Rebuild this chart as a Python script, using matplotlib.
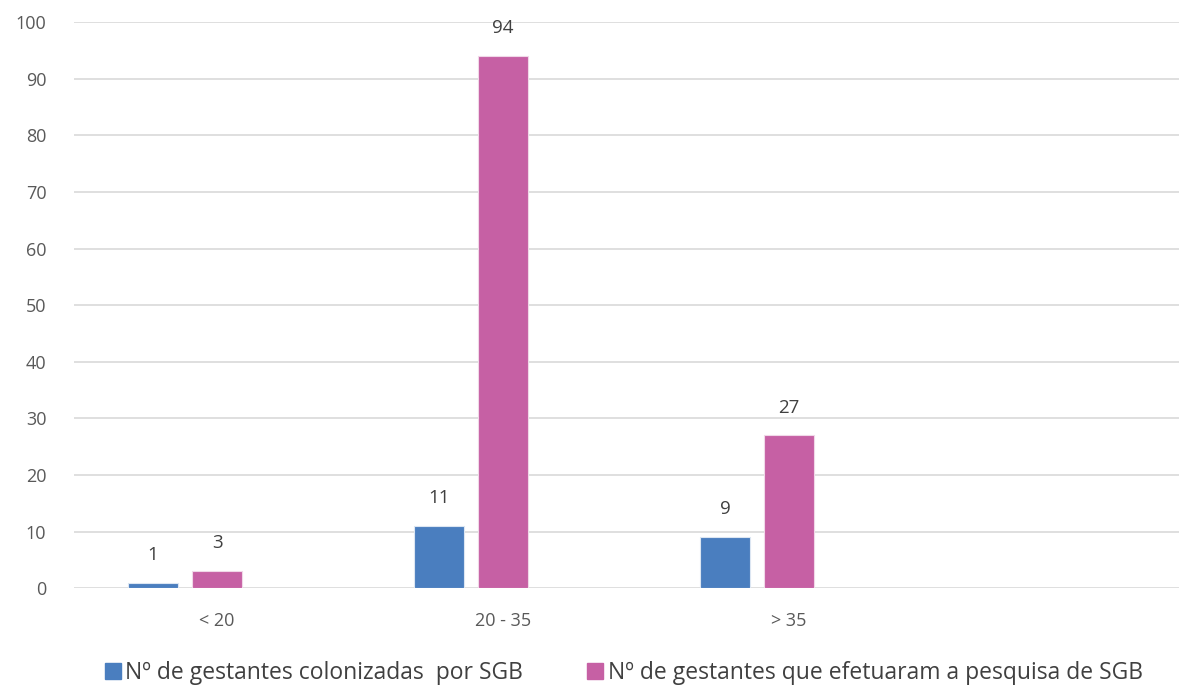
import numpy as np
import matplotlib.pyplot as plt
from matplotlib.patches import Patch

plt.rcParams['font.family'] = ['Open Sans', 'DejaVu Sans']

categorias = ['< 20', '20 - 35', '> 35', '']
colonizadas = [1, 11, 9]
pesquisa = [3, 94, 27]
series_nomes = ['Nº de gestantes colonizadas  por SGB',
                'Nº de gestantes que efetuaram a pesquisa de SGB']

azul = '#4a7ebf'
rosa = '#c660a4'
cinza_txt = '#595959'

fig = plt.figure(figsize=(11.79, 6.92), dpi=100)
ax = fig.add_axes([0.0628, 0.150, 0.9372, 0.818])

x = np.arange(len(colonizadas))
w = 0.175
b1 = ax.bar(x - 0.224, colonizadas, w, color=azul, edgecolor='#dce6f2', linewidth=0.8, zorder=3)
b2 = ax.bar(x, pesquisa, w, color=rosa, edgecolor='#f0d8e8', linewidth=0.8, zorder=3)

for barras in (b1, b2):
    for r in barras:
        ax.annotate(str(int(r.get_height())), (r.get_x() + r.get_width() / 2, r.get_height()),
                    xytext=(0, 20), textcoords='offset points', ha='center', va='center',
                    fontsize=13.5, color='#404040')

ax.set_xlim(-0.5, 3.364)
ax.set_ylim(0, 100)
ax.set_yticks(range(0, 101, 10))
ax.set_xticks(np.arange(len(categorias)))
ax.set_xticklabels(categorias)
ax.yaxis.grid(True, color='#d9d9d9', linewidth=1.2, zorder=0)
ax.set_axisbelow(True)
for s in ax.spines.values():
    s.set_visible(False)
ax.tick_params(axis='both', length=0, labelsize=13, labelcolor=cinza_txt)
ax.tick_params(axis='y', pad=20)
ax.tick_params(axis='x', pad=17)

handles = [Patch(color=azul), Patch(color=rosa)]
fig.legend(handles, series_nomes, loc='center', bbox_to_anchor=(0.529, 0.027), ncol=2,
           frameon=False, fontsize=16.5, handlelength=0.7, handleheight=0.7,
           handletextpad=0.2, columnspacing=2.8, labelcolor='#404040')

fig.savefig('out.png', dpi=100)
